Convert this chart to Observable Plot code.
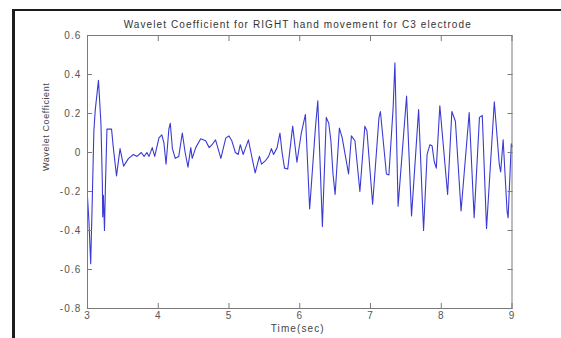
<!DOCTYPE html>
<html>
<head>
<meta charset="utf-8">
<script src="https://cdn.jsdelivr.net/npm/d3@7"></script>
<script src="https://cdn.jsdelivr.net/npm/@observablehq/plot@0.6"></script>
<style>
  html, body { margin: 0; padding: 0; background: #fff; overflow: hidden; }
  #wrap { position: relative; width: 561px; height: 338px; }
  #border { position: absolute; left: 12px; top: 9px; width: 600px; height: 400px;
            border-top: 2px solid #1c1c1c; border-left: 3px solid #1c1c1c; pointer-events: none; }
  svg text { letter-spacing: 1.1px; }
  svg .ylab text { letter-spacing: 0.6px; }
</style>
</head>
<body>
<div id="wrap"><div id="border"></div></div>
<script>
const titleText = "Wavelet Coefficient for RIGHT hand movement for C3 electrode";
const xLabel = "Time(sec)";
const yLabel = "Wavelet Coefficient";
const xTicks = [3, 4, 5, 6, 7, 8, 9];
const yTicks = [-0.8, -0.6, -0.4, -0.2, 0, 0.2, 0.4, 0.6];

const time = [
  3.00, 3.02, 3.045, 3.065, 3.09, 3.11, 3.155, 3.19, 3.21, 3.215, 3.225, 3.24, 3.255, 3.275, 3.34, 3.365,
  3.41, 3.46, 3.51, 3.58, 3.65, 3.70, 3.76, 3.80, 3.84, 3.87, 3.915, 3.95, 4.01, 4.05, 4.08, 4.11,
  4.15, 4.17, 4.20, 4.24, 4.29, 4.34, 4.38, 4.42, 4.46, 4.48, 4.53, 4.60, 4.67, 4.72, 4.76, 4.81,
  4.885, 4.955, 5.00, 5.04, 5.09, 5.13, 5.16, 5.20, 5.23, 5.275, 5.31, 5.37, 5.43, 5.46, 5.52, 5.56,
  5.60, 5.63, 5.68, 5.72, 5.75, 5.785, 5.83, 5.90, 5.92, 5.96, 6.02, 6.08, 6.14, 6.22, 6.255, 6.29,
  6.32, 6.375, 6.41, 6.44, 6.47, 6.50, 6.56, 6.60, 6.69, 6.73, 6.78, 6.85, 6.92, 6.95, 7.03, 7.12,
  7.14, 7.225, 7.26, 7.32, 7.345, 7.39, 7.51, 7.58, 7.68, 7.75, 7.80, 7.84, 7.87, 7.90, 7.93, 7.98,
  8.09, 8.15, 8.20, 8.28, 8.395, 8.465, 8.54, 8.58, 8.64, 8.75, 8.82, 8.84, 8.875, 8.93, 8.945, 8.99,
  9.00
];
const coef = [
  -0.23, -0.35, -0.57, -0.28, 0.11, 0.22, 0.37, 0.15, -0.16, -0.33, -0.22, -0.40, -0.15, 0.12, 0.12, 0.025,
  -0.12, 0.02, -0.07, -0.03, -0.01, -0.02, 0.00, -0.02, 0.00, -0.02, 0.025, -0.02, 0.075, 0.09, 0.05, -0.06,
  0.12, 0.15, 0.02, -0.03, -0.02, 0.10, 0.00, -0.075, 0.025, -0.03, 0.025, 0.07, 0.06, 0.025, 0.04, 0.065,
  -0.03, 0.075, 0.085, 0.06, 0.00, -0.01, 0.04, -0.01, 0.02, 0.065, 0.00, -0.105, -0.02, -0.06, -0.04, -0.02,
  0.02, -0.01, 0.025, 0.10, 0.00, -0.08, -0.085, 0.135, 0.075, -0.05, 0.095, 0.195, -0.29, 0.12, 0.265, -0.08,
  -0.38, 0.18, 0.15, 0.06, -0.11, -0.215, 0.125, 0.075, -0.11, 0.085, 0.06, -0.20, 0.135, 0.11, -0.265, 0.18,
  0.21, -0.11, -0.115, 0.23, 0.46, -0.275, 0.29, -0.325, 0.22, -0.40, -0.01, 0.04, 0.035, -0.045, -0.08, 0.24,
  -0.215, 0.21, 0.16, -0.30, 0.205, -0.335, 0.18, 0.19, -0.39, 0.26, -0.06, -0.10, 0.065, -0.30, -0.335, 0.045,
  0.03
];

const data = time.map((t, i) => ({t, v: coef[i]}));
const fmtY = d => d === 0 ? "0" : d.toFixed(1);
const axisGray = "#7a7a7a";

const chart = Plot.plot({
  width: 561,
  height: 338,
  marginLeft: 87,
  marginRight: 49.5,
  marginTop: 35,
  marginBottom: 30,
  x: {domain: [3, 9]},
  y: {domain: [-0.8, 0.6]},
  style: {fontFamily: "'Liberation Sans', Arial, sans-serif", fontSize: "10px", color: "#555", background: "transparent"},
  marks: [
    Plot.line(data, {x: "t", y: "v", stroke: "#3b3bd4", strokeWidth: 1.1}),
    Plot.frame({stroke: axisGray}),
    Plot.axisX(xTicks, {anchor: "bottom", tickSize: -5, tickPadding: 8.5, label: null, stroke: axisGray, tickFormat: d => String(d)}),
    Plot.axisX(xTicks, {anchor: "top", tickSize: -5, label: null, stroke: axisGray, tickFormat: () => ""}),
    Plot.axisY(yTicks, {anchor: "left", tickSize: -5, tickPadding: 11, label: null, stroke: axisGray, tickFormat: fmtY}),
    Plot.axisY(yTicks, {anchor: "right", tickSize: -5, label: null, stroke: axisGray, tickFormat: () => ""}),
    Plot.text([titleText], {frameAnchor: "top", dy: -11, dx: -2, lineAnchor: "middle", fill: "#333", fontSize: 10}),
    Plot.text([xLabel], {frameAnchor: "bottom", dy: 20, dx: -2, lineAnchor: "middle", fill: "#444", fontSize: 10}),
    Plot.text([yLabel], {frameAnchor: "left", dx: -41, dy: -1, rotate: -90, lineAnchor: "middle", fill: "#444", fontSize: 9, className: "ylab"})
  ]
});
document.getElementById("wrap").prepend(chart);
</script>
</body>
</html>
